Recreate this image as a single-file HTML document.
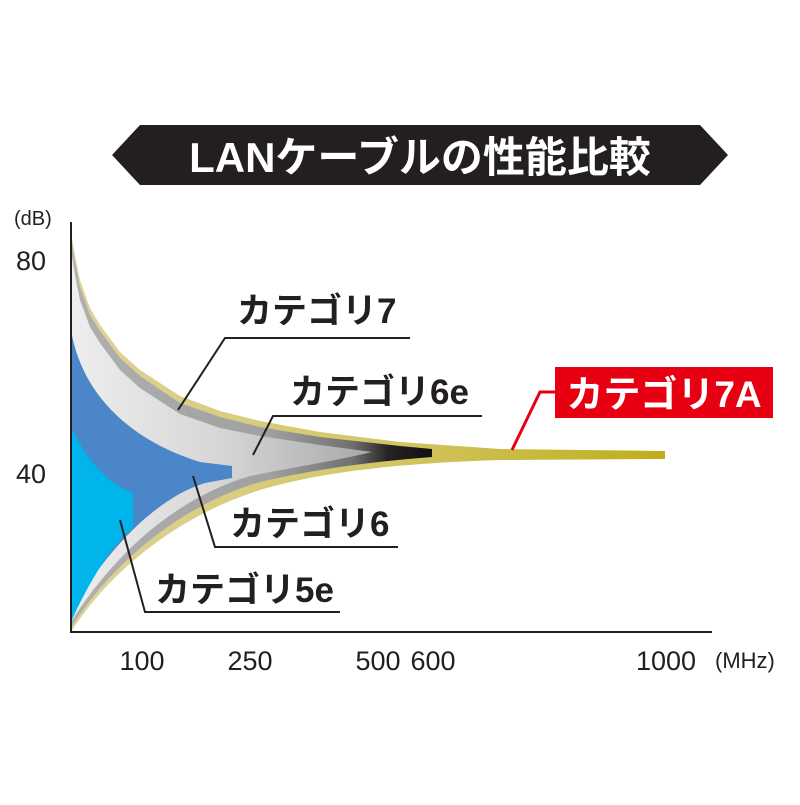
<!DOCTYPE html>
<html><head><meta charset="utf-8"><style>
body{margin:0;background:#fff}
svg text{font-family:"Liberation Sans","Noto Sans CJK JP",sans-serif}
</style></head><body>
<svg width="800" height="800" viewBox="0 0 800 800" xmlns="http://www.w3.org/2000/svg">
<defs>
<linearGradient id="g7" x1="71" y1="0" x2="432" y2="0" gradientUnits="userSpaceOnUse">
<stop offset="0" stop-color="#b0b0b0"/><stop offset="0.55" stop-color="#a0a0a0"/><stop offset="0.78" stop-color="#707070"/><stop offset="0.88" stop-color="#262222"/><stop offset="1" stop-color="#111"/></linearGradient>
<linearGradient id="g6e" x1="71" y1="0" x2="372" y2="0" gradientUnits="userSpaceOnUse">
<stop offset="0" stop-color="#eeeeee"/><stop offset="0.5" stop-color="#d6d6d6"/><stop offset="1" stop-color="#a8a8a8"/></linearGradient>
<linearGradient id="gy" x1="71" y1="0" x2="665" y2="0" gradientUnits="userSpaceOnUse">
<stop offset="0" stop-color="#ddd39a"/><stop offset="0.5" stop-color="#d4c76a"/><stop offset="1" stop-color="#bfae1a"/></linearGradient>
</defs>
<polygon points="112,155 140,125 700,125 728,155 700,185 140,185" fill="#231f20"/>
<text x="420" y="172" font-size="42" fill="#fff" text-anchor="middle" font-weight="bold">LANケーブルの性能比較</text>

<path d="M71,232 L75,255 L80,280 L90,308 L100,325 L120,352 L140,370 L180,396 L220,411 L260,421 L320,432 L400,442 L500,449 L665,451 L665,459 L500,460 C400,463 320,472 260,490 C180,515 110,570 71,632 Z" fill="url(#gy)"/>
<path d="M71,238 L75,262 L80,287 L90,315 L100,331 L120,358 L140,376 L180,403 L220,417 L260,427 L320,437 L400,446 L432,449 L432,457 C380,461 320,468 260,482 C180,505 110,565 71,628 Z" fill="url(#g7)"/>
<path d="M71,250 L75,275 L80,300 L90,327 L100,343 L120,370 L140,388 L180,414 L220,428 L260,436 L320,445 L372,452 C330,462 300,466 250,476 C170,500 110,560 71,622 Z" fill="url(#g6e)"/>
<path d="M71,330 C82,395 130,440 200,462 L232,466 L232,478 L205,483 C150,500 100,560 71,612 Z" fill="#4a86c8"/>
<path d="M71,426 C85,460 110,485 133,493 L133,528 C110,545 85,590 71,622 Z" fill="#00b4ec"/>

<line x1="71" y1="222" x2="71" y2="633" stroke="#231f20" stroke-width="2"/>
<line x1="70" y1="632" x2="712" y2="632" stroke="#231f20" stroke-width="2"/>

<g stroke="#231f20" stroke-width="2" fill="none">
<polyline points="178,410 225,338 410,338"/>
<polyline points="253,455 273,416 482,416"/>
<polyline points="193,476 215,547 398,547"/>
<polyline points="120,520 145,612 340,612"/>
</g>
<polyline points="512,450 540,392 556,392" stroke="#e60012" stroke-width="3" fill="none"/>
<rect x="555" y="367" width="218" height="51" fill="#e60012"/>
<text x="664" y="407" font-size="37" fill="#fff" text-anchor="middle" font-weight="bold">カテゴリ7A</text>

<g font-size="35" fill="#231f20" font-weight="bold">
<text x="237" y="323">カテゴリ7</text>
<text x="290" y="404">カテゴリ6e</text>
<text x="230" y="536">カテゴリ6</text>
<text x="155" y="602">カテゴリ5e</text>
</g>
<g font-size="27" fill="#231f20">
<text x="14" y="225" font-size="20">(dB)</text>
<text x="16" y="270">80</text>
<text x="16" y="483">40</text>
<text x="142" y="670" text-anchor="middle">100</text>
<text x="250" y="670" text-anchor="middle">250</text>
<text x="378" y="670" text-anchor="middle">500</text>
<text x="433" y="670" text-anchor="middle">600</text>
<text x="666" y="670" text-anchor="middle">1000</text>
<text x="715" y="668" font-size="22">(MHz)</text>
</g>
</svg>
</body></html>
